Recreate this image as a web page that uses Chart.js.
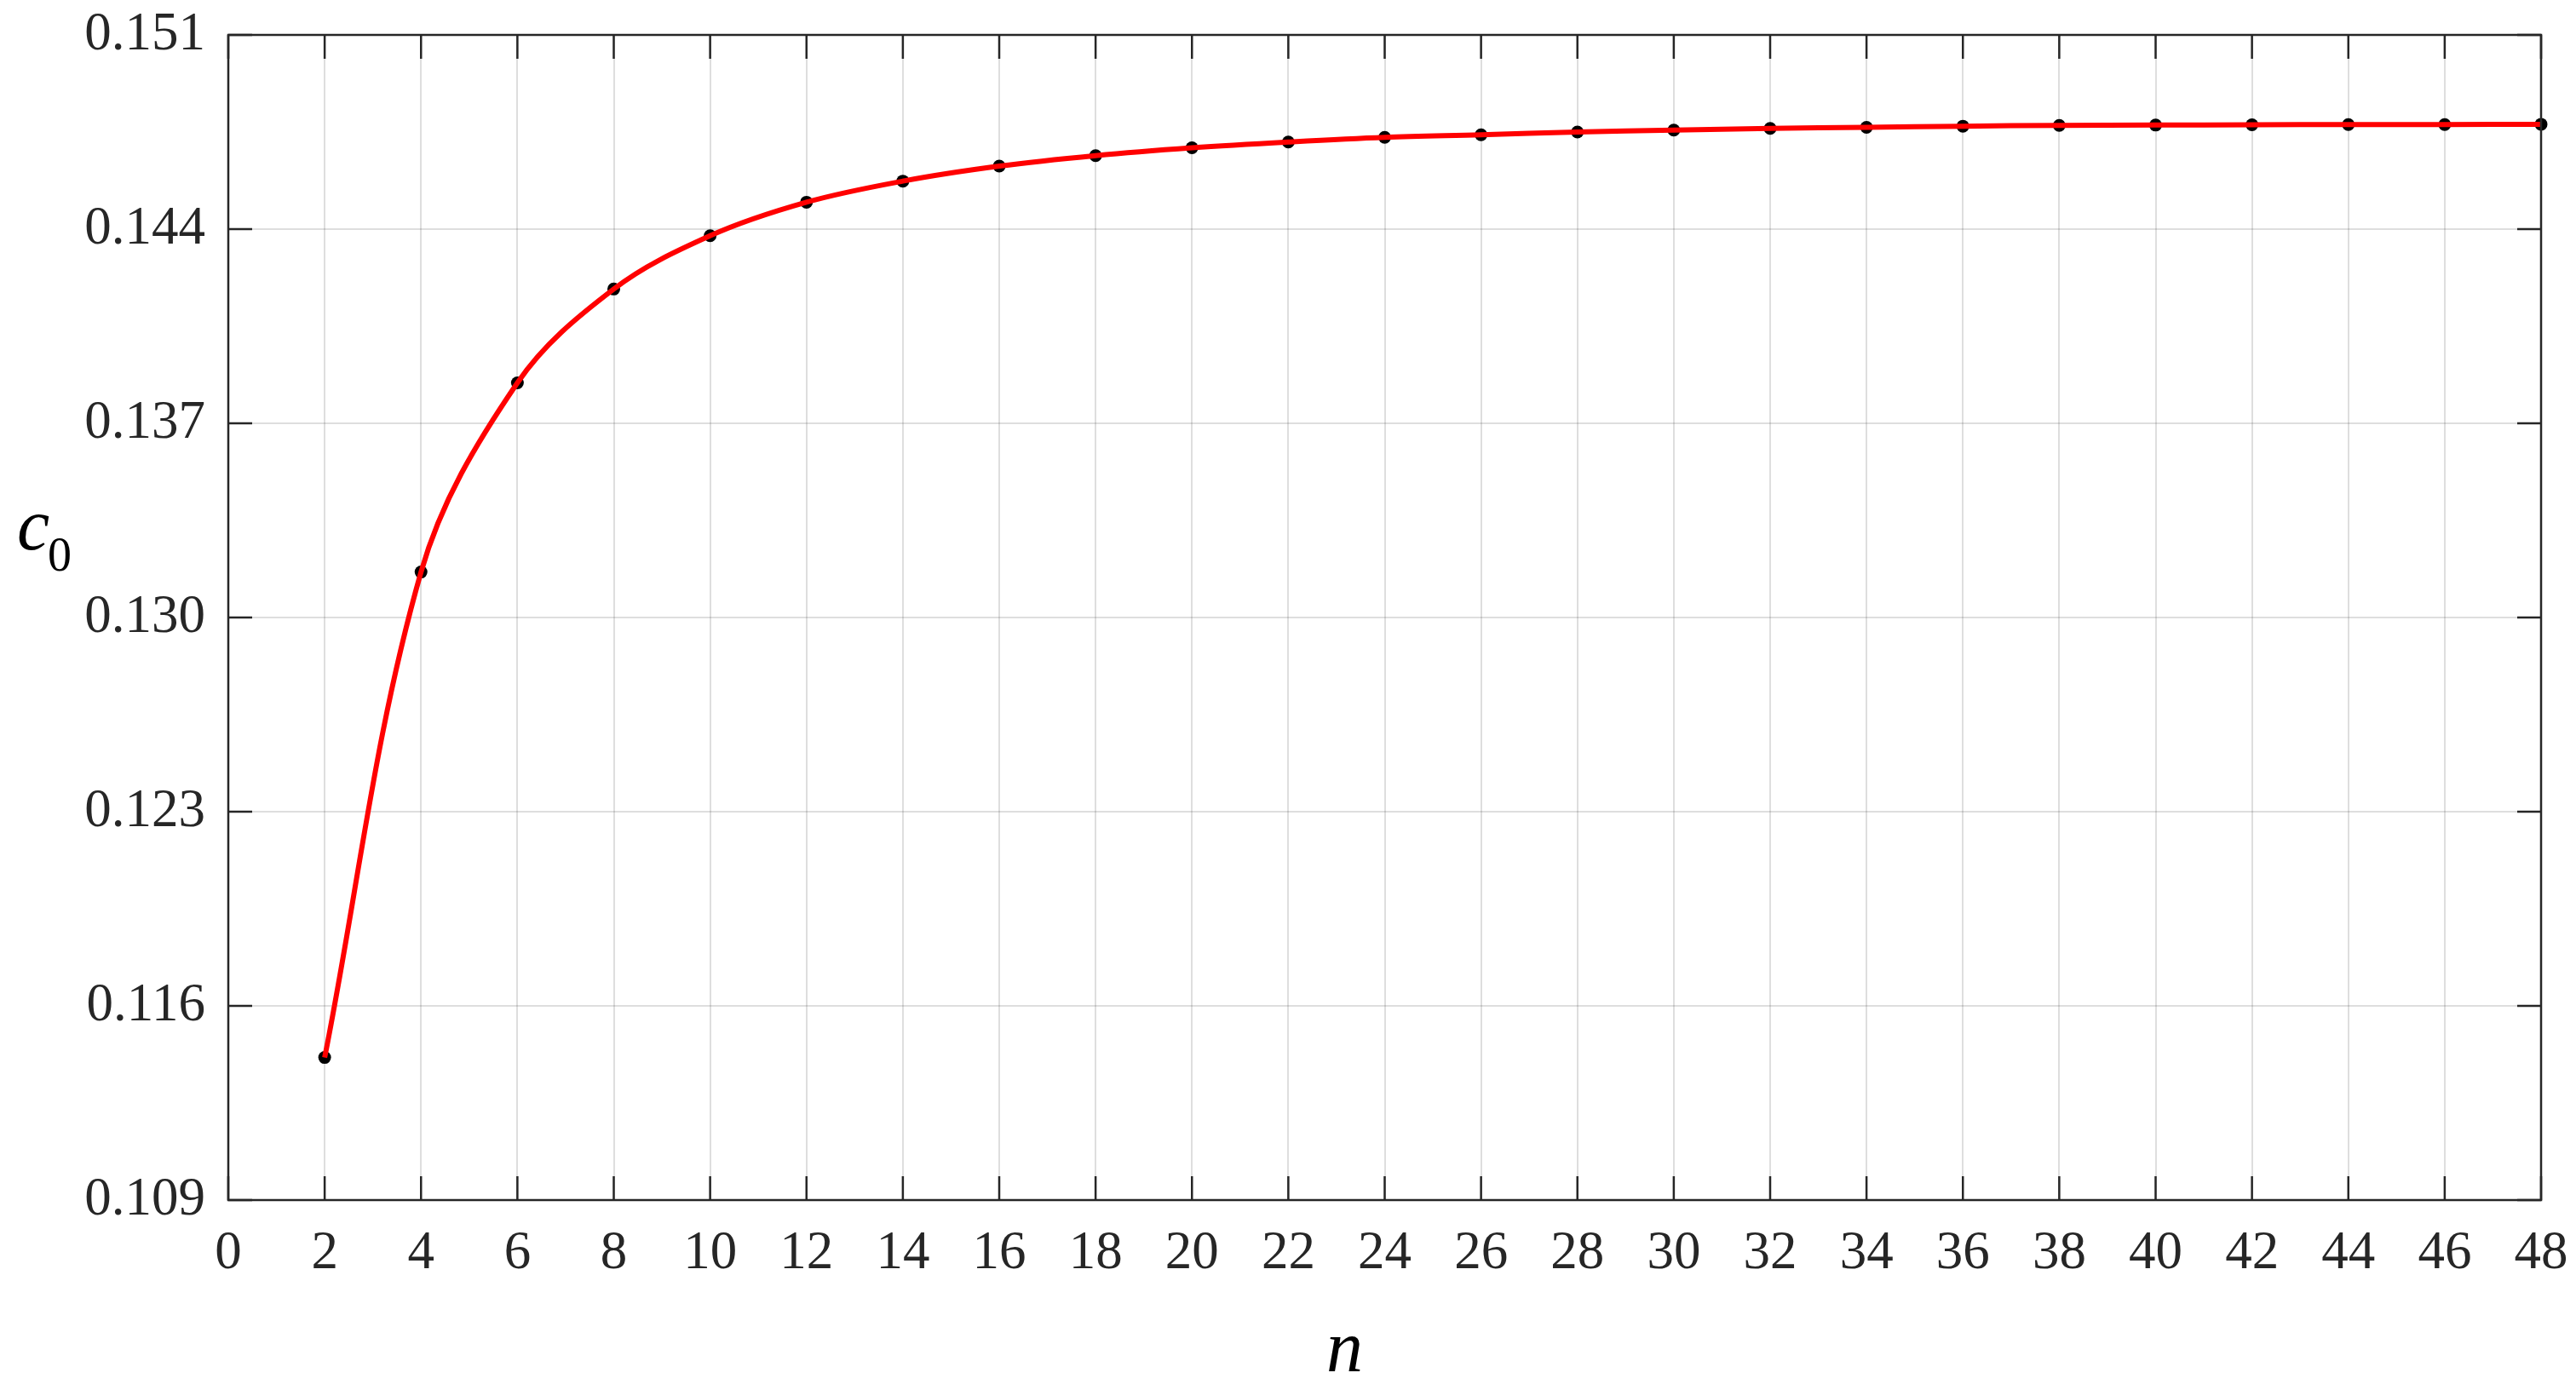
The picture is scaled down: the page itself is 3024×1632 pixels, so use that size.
<!DOCTYPE html>
<html>
<head>
<meta charset="utf-8">
<script src="https://cdn.jsdelivr.net/npm/chart.js@4.4.1/dist/chart.umd.min.js"></script>
<style>
  html, body { margin: 0; padding: 0; background: #fff; }
  #wrap { width: 3024px; height: 1632px; }
</style>
</head>
<body>
<div id="wrap"><canvas id="c0Chart"></canvas></div>
<script>
// n values and c0 values
const nValues = [2, 4, 6, 8, 10, 12, 14, 16, 18, 20, 22, 24, 26, 28, 30, 32, 34, 36, 38, 40, 42, 44, 46, 48];
const c0Values = [0.11414, 0.13164, 0.13846, 0.14184, 0.14376, 0.14497, 0.14573, 0.14627,
  0.14665, 0.14693, 0.14714, 0.14731, 0.14740, 0.14750, 0.14757, 0.14763,
  0.14767, 0.14771, 0.14774, 0.14775, 0.14776, 0.14777, 0.14777, 0.14778];

const xTicks = [0, 2, 4, 6, 8, 10, 12, 14, 16, 18, 20, 22, 24, 26, 28, 30, 32, 34, 36, 38, 40, 42, 44, 46, 48];
const yTicks = [0.109, 0.116, 0.123, 0.130, 0.137, 0.144, 0.151];

const FRAME = "#262626";
const SERIF = "'Liberation Serif', 'DejaVu Serif', serif";

const points = nValues.map((n, i) => ({ x: n, y: c0Values[i] }));

// box around the plot, inward ticks on all four sides, axis labels
const framePlugin = {
  id: "frame",
  afterDatasetsDraw(chart) {
    const { ctx, chartArea: a, scales } = chart;
    const len = 28;
    ctx.save();
    ctx.strokeStyle = FRAME;
    ctx.lineWidth = 2.5;
    ctx.strokeRect(a.left, a.top, a.right - a.left, a.bottom - a.top);
    ctx.beginPath();
    xTicks.forEach(v => {
      const px = scales.x.getPixelForValue(v);
      ctx.moveTo(px, a.bottom); ctx.lineTo(px, a.bottom - len);
      ctx.moveTo(px, a.top); ctx.lineTo(px, a.top + len);
    });
    yTicks.forEach(v => {
      const py = scales.y.getPixelForValue(v);
      ctx.moveTo(a.left, py); ctx.lineTo(a.left + len, py);
      ctx.moveTo(a.right, py); ctx.lineTo(a.right - len, py);
    });
    ctx.stroke();

    // axis titles
    ctx.fillStyle = "#000";
    ctx.textBaseline = "alphabetic";
    ctx.textAlign = "left";
    ctx.font = "italic 86px " + SERIF;
    ctx.fillText("c", 20, 645);
    ctx.font = "56px " + SERIF;
    ctx.fillText("0", 56, 670);
    ctx.font = "italic 86px " + SERIF;
    ctx.fillText("n", 1557, 1610);
    ctx.restore();
  }
};

const ctx = document.getElementById("c0Chart").getContext("2d");
new Chart(ctx, {
  type: "scatter",
  data: {
    datasets: [
      {
        label: "curve",
        data: points,
        showLine: true,
        borderColor: "#ff0000",
        borderWidth: 6,
        tension: 0.35,
        pointRadius: 0,
        clip: false
      },
      {
        label: "points",
        data: points,
        showLine: false,
        pointRadius: 7.5,
        pointBackgroundColor: "#000",
        pointBorderColor: "#000",
        pointBorderWidth: 0,
        clip: false
      }
    ]
  },
  options: {
    responsive: true,
    maintainAspectRatio: false,
    animation: false,
    devicePixelRatio: 1,
    layout: { padding: { top: 41, right: 41, left: 0, bottom: 0 } },
    plugins: {
      legend: { display: false },
      tooltip: { enabled: false }
    },
    scales: {
      x: {
        type: "linear",
        min: 0,
        max: 48,
        afterBuildTicks: s => { s.ticks = xTicks.map(v => ({ value: v })); },
        afterFit: s => { s.height = 223; s.paddingLeft = 0; s.paddingRight = 0; },
        grid: { color: "rgba(0,0,0,0.13)", lineWidth: 2, drawTicks: false },
        border: { display: false },
        ticks: {
          color: "#262626",
          font: { family: SERIF, size: 63 },
          padding: 26,
          maxRotation: 0,
          autoSkip: false,
          callback: v => String(v)
        }
      },
      y: {
        type: "linear",
        min: 0.109,
        max: 0.151,
        afterBuildTicks: s => { s.ticks = yTicks.map(v => ({ value: v })); },
        afterFit: s => { s.width = 268; s.paddingTop = 0; s.paddingBottom = 0; },
        grid: { color: "rgba(0,0,0,0.13)", lineWidth: 2, drawTicks: false },
        border: { display: false },
        ticks: {
          color: "#262626",
          font: { family: SERIF, size: 63 },
          padding: 27,
          autoSkip: false,
          callback: v => Number(v).toFixed(3)
        }
      }
    }
  },
  plugins: [framePlugin]
});
</script>
</body>
</html>
